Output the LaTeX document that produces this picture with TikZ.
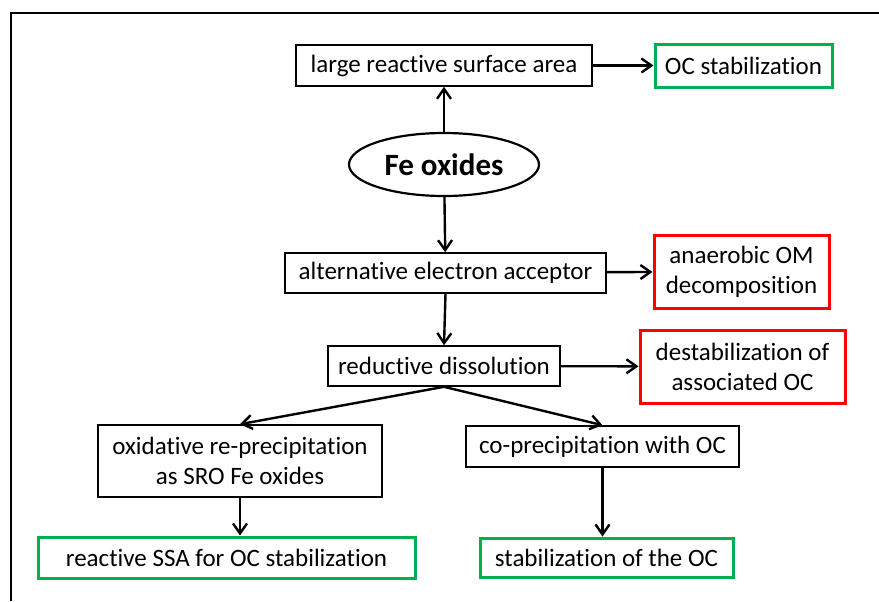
\documentclass[tikz,border=0pt]{standalone}
\usepackage{fontspec}
\setmainfont{Carlito}[Ligatures=NoCommon]
\usetikzlibrary{shapes.geometric, positioning, arrows.meta}
\definecolor{okgreen}{RGB}{0,176,80}
\definecolor{badred}{RGB}{255,0,0}

\begin{document}
\begin{tikzpicture}[
        x=0.5pt, y=-0.5pt,
        every node/.style={font=\fontsize{12.5}{15}\selectfont, align=center, inner sep=2pt},
        box/.style={draw, line width=0.8pt},
        goodbox/.style={draw=okgreen, line width=1.5pt},
        badbox/.style={draw=badred, line width=1.5pt},
        arr/.style={-{Straight Barb[length=5pt,width=7pt]}, line width=1.2pt}
      ]
        \useasboundingbox (0,0) rectangle (879,601);
        % frame
        \draw[line width=1pt] (11,601) -- (11,13) -- (879,13);

        \node[ellipse, draw, line width=1.1pt, minimum width=95pt, minimum height=31.5pt, inner sep=0pt,
              font=\bfseries\fontsize{15.5}{18}\selectfont] (fe) at (444,164.5) {Fe oxides};
        \node[box, minimum width=148pt, minimum height=20.5pt] (large) at (444,65.5) {large reactive surface area};
        \node[goodbox, minimum width=88.5pt, minimum height=21.5pt] (ocstab) at (743.5,65.5) {OC stabilization};
        \node[box, minimum width=160.5pt, minimum height=20pt] (alt) at (445.5,273) {alternative electron acceptor};
        \node[badbox, minimum width=87.5pt, minimum height=36.5pt] (anaer) at (741.5,271.5) {anaerobic OM\\decomposition};
        \node[box, minimum width=116pt, minimum height=20pt] (reduct) at (444,366) {reductive dissolution};
        \node[badbox, minimum width=102.5pt, minimum height=36.5pt] (destab) at (742.5,366.5) {destabilization of\\associated OC};
        \node[box, minimum width=142pt, minimum height=36pt] (oxid) at (240,461) {oxidative re-precipitation\\as SRO Fe oxides};
        \node[box, minimum width=136.5pt, minimum height=20.5pt] (coprec) at (602.5,446.5) {co-precipitation with OC};
        \node[goodbox, minimum width=188.5pt, minimum height=20.5pt] (ssa) at (226.5,557.5) {reactive SSA for OC stabilization};
        \node[goodbox, minimum width=126.5pt, minimum height=19.5pt] (stab) at (606.5,557.5) {stabilization of the OC};

        \draw[arr] (fe) -- (large);
        \draw[arr] (large) -- (ocstab);
        \draw[arr] (fe) -- (alt);
        \draw[arr] (alt) -- (anaer);
        \draw[arr] (alt.south) -- (reduct.north);
        \draw[arr] (reduct) -- (destab);
        \draw[arr] (reduct.south) -- (oxid.north);
        \draw[arr] (reduct.south) -- (coprec.north);
        \draw[arr] (oxid.south) -- (oxid.south |- ssa.north);
        \draw[arr] (coprec.south) -- (coprec.south |- stab.north);
      \end{tikzpicture}
\end{document}
